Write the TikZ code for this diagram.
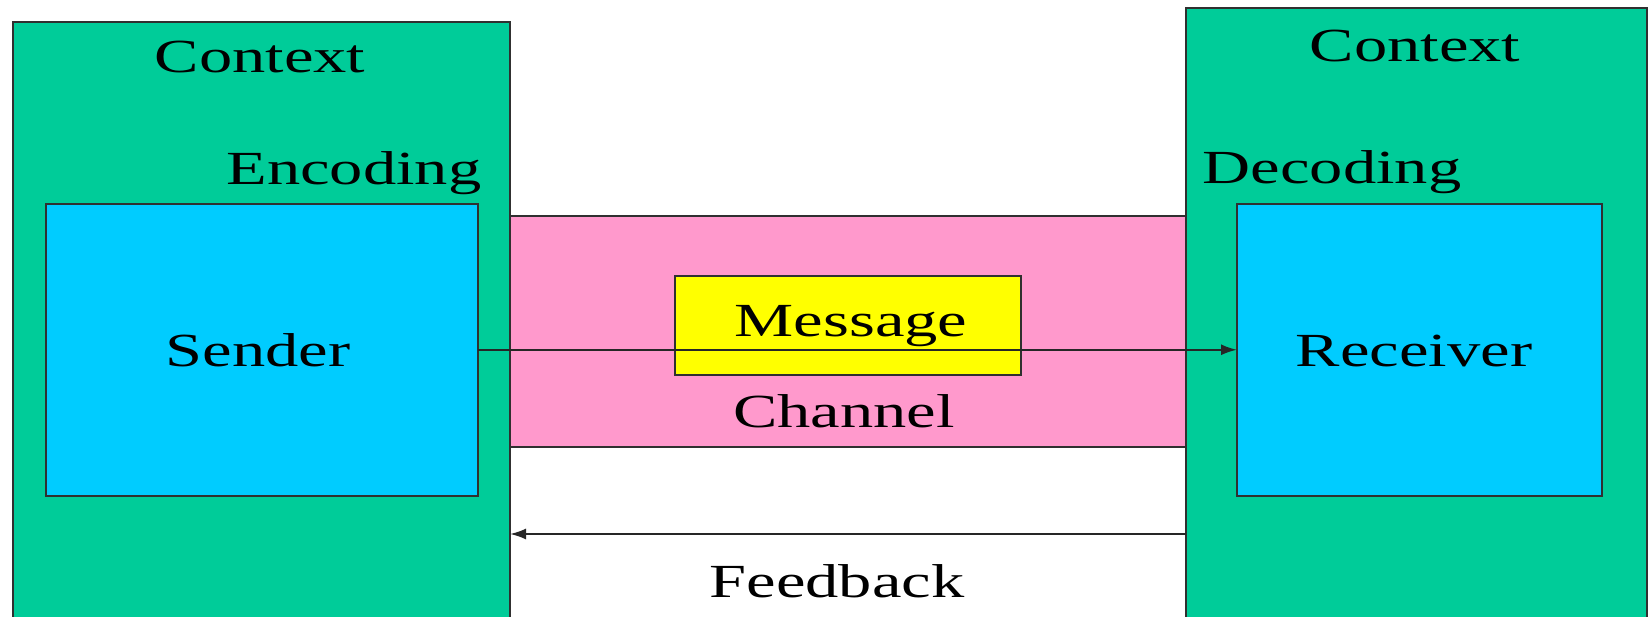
\documentclass[tikz,border=0pt]{standalone}
\usepackage{fontspec}
\setmainfont{Liberation Serif}
\usepackage{graphicx}
\usetikzlibrary{arrows.meta}
\definecolor{ctxgreen}{HTML}{00CC99}
\definecolor{agentblue}{HTML}{00CCFF}
\definecolor{chanpink}{HTML}{FF99CC}
\definecolor{msgyellow}{HTML}{FFFF00}
\definecolor{edgegray}{HTML}{303030}
\newcommand{\wtxt}[1]{\scalebox{1.4}[1]{#1}}
\tikzset{
  boxshape/.style={draw=edgegray, line width=2pt, rectangle, inner sep=0pt, outer sep=0pt, anchor=north west},
  lbl/.style={inner sep=0pt, anchor=base, font=\fontsize{47.5}{50}\selectfont},
  arr/.style={draw=black!85, line width=2pt, -{Latex[length=16pt,width=11pt]}},
}
\begin{document}
\begin{tikzpicture}[x=1pt,y=-1pt]
\clip (0,0) rectangle (1649,616);
\fill[white] (0,0) rectangle (1649,616);
% context boxes
\node[boxshape, fill=ctxgreen, minimum width=497.5pt, minimum height=640pt] (ctxL) at (12.5,21.5) {};
\node[boxshape, fill=ctxgreen, minimum width=461pt, minimum height=650pt] (ctxR) at (1186,7.5) {};
% channel
\node[boxshape, fill=chanpink, minimum width=676pt, minimum height=231pt] (chan) at (510,216) {};
% sender / receiver
\node[boxshape, fill=agentblue, minimum width=432pt, minimum height=292.5pt] (sender) at (46,203.5) {};
\node[boxshape, fill=agentblue, minimum width=365pt, minimum height=292.5pt] (receiver) at (1237,203.5) {};
% message
\node[boxshape, fill=msgyellow, minimum width=346pt, minimum height=99pt] (msg) at (674.5,275.5) {};
% labels
\node[lbl] (tctxL) at (260,72.5) {\wtxt{Context}};
\node[lbl] (tenc) at (354,184) {\wtxt{Encoding}};
\node[lbl] (tsend) at (258,366) {\wtxt{Sender}};
\node[lbl] (tctxR) at (1415,61) {\wtxt{Context}};
\node[lbl] (tdec) at (1332,183) {\wtxt{Decoding}};
\node[lbl] (trecv) at (1414,366) {\wtxt{Receiver}};
\node[lbl] (tmsg) at (851,336) {\wtxt{Message}};
\node[lbl] (tchan) at (844,427) {\wtxt{Channel}};
\node[lbl] (tfb) at (837,597) {\wtxt{Feedback}};
% connectors
\draw[arr] (sender.east) -- (receiver.west);
\draw[arr] (ctxR.west |- 0,534) -- (ctxL.east |- 0,534);
\end{tikzpicture}
\end{document}
